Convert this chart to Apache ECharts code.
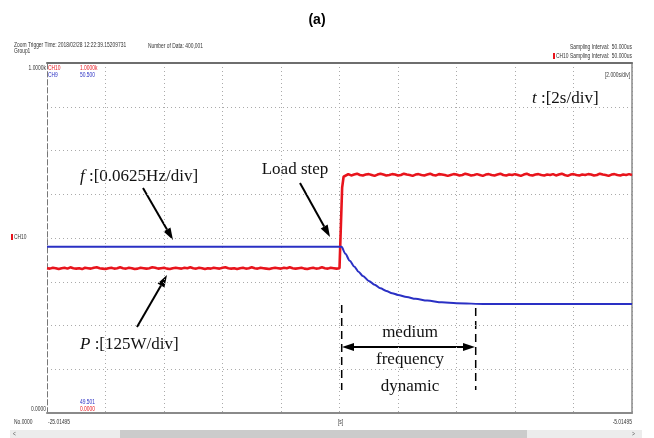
<!DOCTYPE html>
<html>
<head>
<meta charset="utf-8">
<script src="https://cdn.jsdelivr.net/npm/echarts@6/dist/echarts.min.js"></script>
<style>
  html, body { margin: 0; padding: 0; background: #fff; }
  #chart { width: 654px; height: 438px; }
</style>
</head>
<body>
<div id="chart"></div>
<script>
// screen is 10 x-divisions of 2 s and 8 y-divisions, values in divisions
const xDivs = [0, 20];
const yDivs = [0, 8];

// f (CH9): time [s] / level [div]
const fTime = [0, 10.07, 10.2, 10.35, 10.5, 10.65, 10.8, 11.0, 11.2, 11.4, 11.6, 11.8, 12.0, 12.3, 12.6, 13.0, 13.5, 14.0, 15.0, 17.0, 20.0];
const fVals = [3.80, 3.80, 3.64, 3.48, 3.35, 3.23, 3.13, 3.02, 2.93, 2.85, 2.79, 2.74, 2.70, 2.65, 2.61, 2.57, 2.53, 2.51, 2.49, 2.49, 2.49];

// P (CH10): sampled every 0.1 s before and after the load step
const pStep = 0.1;
const pBefore = [
  3.31, 3.30, 3.32, 3.31, 3.29, 3.31, 3.32, 3.30, 3.33, 3.31,
  3.30, 3.31, 3.29, 3.32, 3.31, 3.30, 3.32, 3.33, 3.31, 3.30,
  3.29, 3.31, 3.32, 3.30, 3.31, 3.33, 3.31, 3.30, 3.32, 3.31,
  3.29, 3.30, 3.32, 3.31, 3.30, 3.31, 3.33, 3.32, 3.30, 3.31,
  3.32, 3.30, 3.29, 3.31, 3.32, 3.31, 3.30, 3.32, 3.31, 3.33,
  3.31, 3.30, 3.32, 3.31, 3.29, 3.31, 3.30, 3.32, 3.31, 3.30,
  3.32, 3.33, 3.31, 3.30, 3.31, 3.29, 3.31, 3.32, 3.30, 3.31,
  3.33, 3.31, 3.30, 3.32, 3.31, 3.30, 3.29, 3.31, 3.32, 3.31,
  3.30, 3.32, 3.31, 3.33, 3.31, 3.30, 3.31, 3.32, 3.30, 3.29,
  3.31, 3.32, 3.30, 3.31, 3.33, 3.31, 3.30, 3.32, 3.31, 3.30,
  3.31];
const pEdgeTime = [10.06, 10.09, 10.14];
const pEdgeVals = [3.31, 5.15, 5.40];
const pAfterStart = 10.2;
const pAfter = [
  5.44, 5.46, 5.43, 5.45, 5.47, 5.44, 5.43, 5.45, 5.46, 5.44,
  5.42, 5.45, 5.47, 5.45, 5.43, 5.44, 5.46, 5.45, 5.43, 5.44,
  5.47, 5.45, 5.44, 5.42, 5.45, 5.46, 5.44, 5.43, 5.45, 5.47,
  5.44, 5.43, 5.46, 5.45, 5.44, 5.42, 5.44, 5.46, 5.45, 5.43,
  5.44, 5.47, 5.45, 5.43, 5.44, 5.46, 5.44, 5.42, 5.45, 5.46,
  5.44, 5.43, 5.45, 5.47, 5.44, 5.43, 5.45, 5.44, 5.46, 5.44,
  5.42, 5.45, 5.47, 5.44, 5.43, 5.45, 5.46, 5.44, 5.43, 5.45,
  5.44, 5.46, 5.43, 5.45, 5.47, 5.44, 5.42, 5.45, 5.46, 5.44,
  5.43, 5.45, 5.44, 5.46, 5.45, 5.43, 5.44, 5.47, 5.45, 5.44,
  5.42, 5.45, 5.46, 5.44, 5.43, 5.45, 5.44, 5.46, 5.44];

const fData = fTime.map((t, i) => [t, fVals[i]]);
const pData = pBefore.map((v, i) => [+(i * pStep).toFixed(2), v])
  .concat(pEdgeTime.map((t, i) => [t, pEdgeVals[i]]))
  .concat(pAfter.map((v, i) => [+(pAfterStart + i * pStep).toFixed(2), v]));

const myChart = echarts.init(document.getElementById("chart"));

const serif = "Liberation Serif, Times New Roman, serif";
const RED = "#e8141c";
const BLUE = "#2a30c4";

// the scope's tiny condensed labels
const smallText = (x, y, text, color, align) => ({
  type: "text", x: x, y: y, scaleX: 0.7,
  style: { text: text, fill: color || "#333", align: align || "left", verticalAlign: "middle",
    fontFamily: "Liberation Sans, Arial, sans-serif", fontSize: 7 },
});
const bigText = (x, y, text, align) => ({
  type: "text", x: x, y: y,
  style: { text: text, fill: "#111", align: align || "left", verticalAlign: "middle",
    fontFamily: serif, fontSize: 17, rich: { i: { fontStyle: "italic", fontFamily: serif, fontSize: 17 } } },
});
// arrow from (x1,y1) to tip (x2,y2)
const arrow = (x1, y1, x2, y2) => {
  const a = Math.atan2(y2 - y1, x2 - x1), L = 12, W = 4;
  const bx = x2 - L * Math.cos(a), by = y2 - L * Math.sin(a);
  return [
    { type: "line", shape: { x1: x1, y1: y1, x2: bx, y2: by }, style: { stroke: "#000", lineWidth: 2 } },
    { type: "polygon", shape: { points: [[x2, y2], [bx + W * Math.sin(a), by - W * Math.cos(a)], [bx - W * Math.sin(a), by + W * Math.cos(a)]] },
      style: { fill: "#000" } },
  ];
};

const option = {
  animation: false,
  backgroundColor: "#fff",
  grid: { left: 47, right: 22, top: 63, bottom: 25 },
  xAxis: [
    {
      type: "value", min: xDivs[0], max: xDivs[1], interval: 2,
      axisLine: { show: true, lineStyle: { color: "#8a8a8a", width: 2 } },
      axisTick: { show: false }, axisLabel: { show: false },
      splitLine: { show: true, lineStyle: { color: "#aaa", type: [1, 3], width: 1 } },
    },
    {
      type: "value", position: "top", min: xDivs[0], max: xDivs[1],
      axisLine: { show: true, onZero: false, lineStyle: { color: "#6e6e6e", width: 2 } },
      axisTick: { show: false }, axisLabel: { show: false }, splitLine: { show: false },
    },
  ],
  yAxis: [
    {
      type: "value", min: yDivs[0], max: yDivs[1], interval: 1,
      axisLine: { show: true, lineStyle: { color: "#777", type: [5, 3], width: 1 } },
      axisTick: { show: false }, axisLabel: { show: false },
      splitLine: { show: true, lineStyle: { color: "#aaa", type: [1, 3], width: 1 } },
    },
    {
      type: "value", position: "right", min: yDivs[0], max: yDivs[1],
      axisLine: { show: true, onZero: false, lineStyle: { color: "#8a8a8a", width: 1.5 } },
      axisTick: { show: false }, axisLabel: { show: false }, splitLine: { show: false },
    },
  ],
  series: [
    {
      name: "P", type: "line", data: pData, symbol: "none",
      lineStyle: { color: RED, width: 2.6 }, z: 3,
    },
    {
      name: "f", type: "line", data: fData, symbol: "none", smooth: 0.3, smoothMonotone: "x",
      lineStyle: { color: BLUE, width: 2 }, z: 4,
    },
  ],
  graphic: [
    { type: "text", x: 317, y: 20, style: { text: "(a)", fill: "#000", align: "center", verticalAlign: "middle",
      fontFamily: "Liberation Sans, Arial, sans-serif", fontWeight: "bold", fontSize: 14 } },
    smallText(14, 45, "Zoom Trigger Time: 2018/02/28 12:22:39.15209731"),
    smallText(14, 51, "Group1"),
    smallText(148, 46, "Number of Data: 400,001"),
    smallText(632, 47, "Sampling Interval:  50.000us", "#333", "right"),
    smallText(632, 56, "CH10 Sampling Interval:  50.000us", "#333", "right"),
    { type: "rect", shape: { x: 553, y: 53, width: 2, height: 6 }, style: { fill: RED } },
    smallText(46, 68, "1.0000k", "#333", "right"),
    smallText(48, 68, "CH10", RED),
    smallText(80, 68, "1.0000k", RED),
    smallText(48, 75, "CH9", BLUE),
    smallText(80, 75, "50.500", BLUE),
    smallText(630, 75, "[2.000s/div]", "#333", "right"),
    { type: "rect", shape: { x: 11, y: 234, width: 2, height: 6 }, style: { fill: RED } },
    smallText(14, 237, "CH10"),
    smallText(80, 402, "49.501", BLUE),
    smallText(80, 409, "0.0000", RED),
    smallText(46, 409, "0.0000", "#333", "right"),
    smallText(14, 422, "No.0000"),
    smallText(48, 422, "-25.01495"),
    smallText(338, 422, "[s]"),
    smallText(632, 422, "-5.01495", "#333", "right"),
    { type: "rect", shape: { x: 10, y: 430, width: 632, height: 8 }, style: { fill: "#ececec" } },
    { type: "rect", shape: { x: 120, y: 430, width: 407, height: 8 }, style: { fill: "#cbcbcb" } },
    smallText(13, 434, "<", "#555"),
    smallText(632, 434, ">", "#555"),

    bigText(532, 99, "{i|t} :[2s/div]"),
    bigText(80, 177, "{i|f} :[0.0625Hz/div]"),
    bigText(295, 170, "Load step", "center"),
    bigText(80, 345, "{i|P} :[125W/div]"),
    ...arrow(143, 188, 173, 240),
    ...arrow(300, 183, 330, 237),
    ...arrow(137, 327, 167, 275),

    { type: "line", shape: { x1: 341.7, y1: 305, x2: 341.7, y2: 390 }, style: { stroke: "#000", lineWidth: 1.5, lineDash: [8, 5] } },
    { type: "line", shape: { x1: 475.7, y1: 308, x2: 475.7, y2: 390 }, style: { stroke: "#000", lineWidth: 1.5, lineDash: [8, 5] } },
    ...arrow(400, 347, 342, 347),
    ...arrow(400, 347, 475, 347),
    bigText(410, 333, "medium", "center"),
    bigText(410, 360, "frequency", "center"),
    bigText(410, 387, "dynamic", "center"),
  ],
};

myChart.setOption(option);
</script>
</body>
</html>
